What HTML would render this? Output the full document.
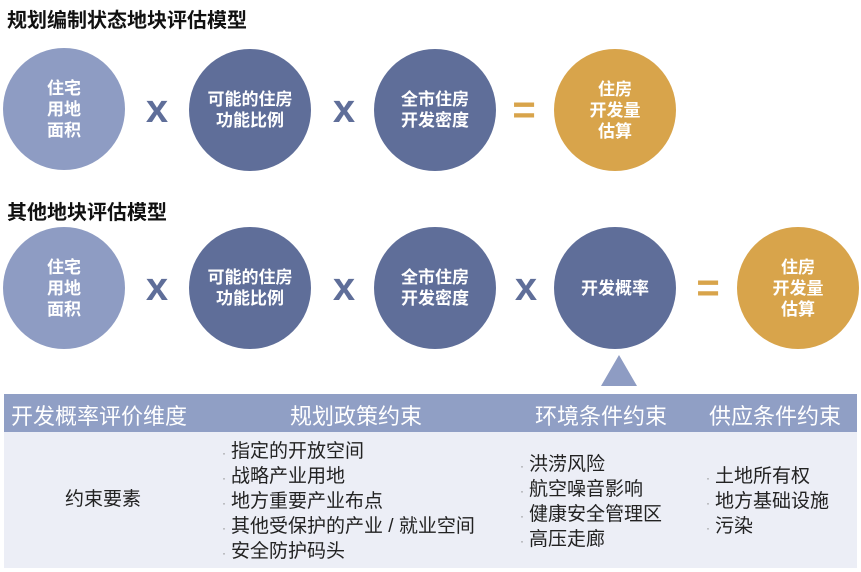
<!DOCTYPE html><html><head><meta charset="utf-8"><style>
body{margin:0;width:861px;height:572px;background:#fff;position:relative;overflow:hidden;font-family:"Liberation Sans","Noto Sans CJK SC",sans-serif}
.t{position:absolute;left:7px;font-size:20px;font-weight:bold;color:#111}
.c{position:absolute;width:122px;height:122px;border-radius:50%;display:flex;align-items:center;justify-content:center;text-align:center;color:#fff;font-weight:bold;font-size:17px;line-height:21px}
.l{background:#8e9cc3}.d{background:#5f6e99}.g{background:#d8a44b}
.op{position:absolute;font-size:40px;font-weight:bold;color:#5f6e99;width:40px;text-align:center;line-height:40px}
.eq{color:#d8a44b}
.h{position:absolute;top:394px;left:4px;width:853px;height:38px;background:#909fc5}
.b{position:absolute;top:432px;left:4px;width:853px;height:136px;background:#eceef6}
.ht{position:absolute;top:399px;color:#fff;font-size:22px}
.bt{position:absolute;font-size:19px;color:#222;line-height:24px}
.bt span{color:#888;font-size:12px;margin-right:5px}
</style></head><body>
<div class="t" style="top:4px">规划编制状态地块评估模型</div>
<div class="c l" style="left:3px;top:48px">住宅<br>用地<br>面积</div>
<div class="op" style="left:137px;top:89px">x</div>
<div class="c d" style="left:189px;top:49px">可能的住房<br>功能比例</div>
<div class="op" style="left:324px;top:89px">x</div>
<div class="c d" style="left:374px;top:49px">全市住房<br>开发密度</div>
<div class="op eq" style="left:504px;top:90px">=</div>
<div class="c g" style="left:554px;top:49px">住房<br>开发量<br>估算</div>

<div class="t" style="top:196px">其他地块评估模型</div>
<div class="c l" style="left:3px;top:227px">住宅<br>用地<br>面积</div>
<div class="op" style="left:137px;top:267px">x</div>
<div class="c d" style="left:189px;top:227px">可能的住房<br>功能比例</div>
<div class="op" style="left:324px;top:267px">x</div>
<div class="c d" style="left:374px;top:227px">全市住房<br>开发密度</div>
<div class="op" style="left:506px;top:267px">x</div>
<div class="c d" style="left:554px;top:227px">开发概率</div>
<div class="op eq" style="left:688px;top:268px">=</div>
<div class="c g" style="left:737px;top:227px">住房<br>开发量<br>估算</div>

<svg style="position:absolute;left:601px;top:355px" width="36" height="31"><polygon points="18,0 36,31 0,31" fill="#8e9cc3"/></svg>
<div class="h"></div><div class="b"></div>
<div class="ht" style="left:11px">开发概率评价维度</div>
<div class="ht" style="left:290px">规划政策约束</div>
<div class="ht" style="left:535px">环境条件约束</div>
<div class="ht" style="left:709px">供应条件约束</div>
<div class="bt" style="left:65px;top:488px">约束要素</div>
<div class="bt" style="left:222px;top:440px"><span>·</span>指定的开放空间<br><span>·</span>战略产业用地<br><span>·</span>地方重要产业布点<br><span>·</span>其他受保护的产业 / 就业空间<br><span>·</span>安全防护码头</div>
<div class="bt" style="left:520px;top:453px"><span>·</span>洪涝风险<br><span>·</span>航空噪音影响<br><span>·</span>健康安全管理区<br><span>·</span>高压走廊</div>
<div class="bt" style="left:706px;top:465px"><span>·</span>土地所有权<br><span>·</span>地方基础设施<br><span>·</span>污染</div>
</body></html>
